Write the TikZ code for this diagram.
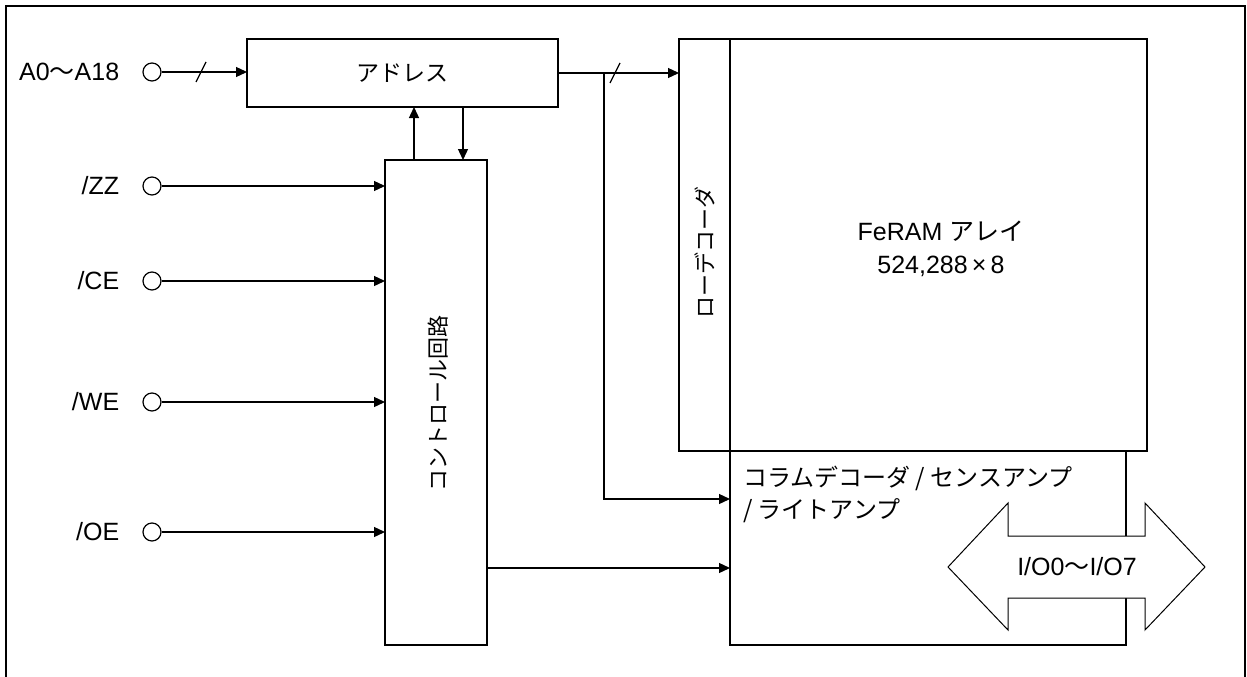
\documentclass[tikz,border=0pt]{standalone}
\usepackage{fontspec}
\setmainfont{Liberation Sans}
\newfontfamily\jpfont{Noto Sans CJK JP}
\usetikzlibrary{arrows.meta}
\usetikzlibrary{calc}
\usetikzlibrary{positioning}

\tikzset{
  block/.style={draw, line width=2pt, inner sep=0pt, outer sep=0pt, anchor=north west},
  wire/.style={line width=1.3pt},
  pin/.style={circle, draw, line width=1.2pt, minimum size=18pt, inner sep=0pt},
  pinlabel/.style={inner sep=0pt},
  vlabel/.style={rotate=90, font=\fontsize{22}{26}\selectfont\jpfont},
}

\begin{document}
\begin{tikzpicture}[x=1pt, y=-1pt, font=\fontsize{25}{30}\selectfont,
    >={Triangle[length=11pt,width=10pt]}]

  \useasboundingbox (0,0) rectangle (1247,677);
  \draw[line width=2pt] (6,677) -- (6,6) -- (1245,6) -- (1245,677);

  % blocks
  \node[block, minimum width=311pt, minimum height=68pt] (addr) at (247,39) {};
  \node[font=\fontsize{23}{28}\selectfont] at (addr.center) {\jpfont アドレス};
  \node[block, minimum width=102pt, minimum height=485pt] (ctrl) at (385,160) {};
  \node[vlabel] at (438,403) {コントロール回路};
  \node[block, minimum width=51pt, minimum height=412pt] (rowdec) at (679,39) {};
  \node[vlabel] at (705,252) {ローデコーダ};
  \node[block, minimum width=417pt, minimum height=412pt] (array) at (rowdec.north east) {};
  \node[align=center, font=\fontsize{25}{33}\selectfont] (arraytxt) at (941,249)
    {FeRAM {\jpfont アレイ}\\524,288\,×\,8};
  \node[block, minimum width=396pt, minimum height=194pt] (coldec) at (array.south west) {};
  \node[anchor=north west, inner sep=0pt, align=left, font=\fontsize{24}{32}\selectfont]
    (coltxt) at (743,466) {\jpfont コラムデコーダ / センスアンプ\\\jpfont / ライトアンプ};

  % data bus
  \draw[line width=1pt, fill=white] (948,567) -- (1008,503) -- (1008,536) -- (1145,536)
    -- (1145,503) -- (1205,567) -- (1145,630) -- (1145,598) -- (1008,598)
    -- (1008,630) -- cycle;
  \node (iotxt) at (1077,567) {I/O0{\jpfont ～}I/O7};

  % input pins
  \node[pin] (pinA) at (152,72) {};
  \node[pin] (pinZZ) at (152,186) {};
  \node[pin] (pinCE) at (152,281) {};
  \node[pin] (pinWE) at (152,402) {};
  \node[pin] (pinOE) at (152,532) {};
  \node[pinlabel, left=23pt of pinA] {A0{\jpfont ～}A18};
  \node[pinlabel, left=23pt of pinZZ] {/ZZ};
  \node[pinlabel, left=23pt of pinCE] {/CE};
  \node[pinlabel, left=23pt of pinWE] {/WE};
  \node[pinlabel, left=23pt of pinOE] {/OE};

  \draw[wire,->] (pinA) -- (pinA -| addr.west);
  \draw[wire,->] (pinZZ) -- (pinZZ -| ctrl.west);
  \draw[wire,->] (pinCE) -- (pinCE -| ctrl.west);
  \draw[wire,->] (pinWE) -- (pinWE -| ctrl.west);
  \draw[wire,->] (pinOE) -- (pinOE -| ctrl.west);

  % bus slashes
  \coordinate (slashA) at ($(pinA)+(49,0)$);
  \draw[wire] (slashA) ++(-5,10) -- ++(10,-20);

  % address <-> control
  \coordinate (up0) at ($(ctrl.north west)+(29,0)$);
  \coordinate (dn0) at ($(addr.south west)+(216,0)$);
  \draw[wire,->] (up0) -- (up0 |- addr.south);
  \draw[wire,->] (dn0) -- (dn0 |- ctrl.north);

  % address -> row decoder, column decoder
  \draw[wire,->] (addr.east) -- (addr.east -| rowdec.west);
  \coordinate (slashB) at ($(addr.east)+(57,0)$);
  \draw[wire] (slashB) ++(-5,10) -- ++(10,-20);
  \coordinate (tap) at ($(addr.east)+(46,0)$);
  \coordinate (colin1) at ($(coldec.north west)+(0,48)$);
  \draw[wire,->] (tap) |- (colin1);

  % control -> column decoder
  \coordinate (colin2) at ($(coldec.north west)+(0,117)$);
  \draw[wire,->] (ctrl.east |- colin2) -- (colin2);

\end{tikzpicture}
\end{document}
